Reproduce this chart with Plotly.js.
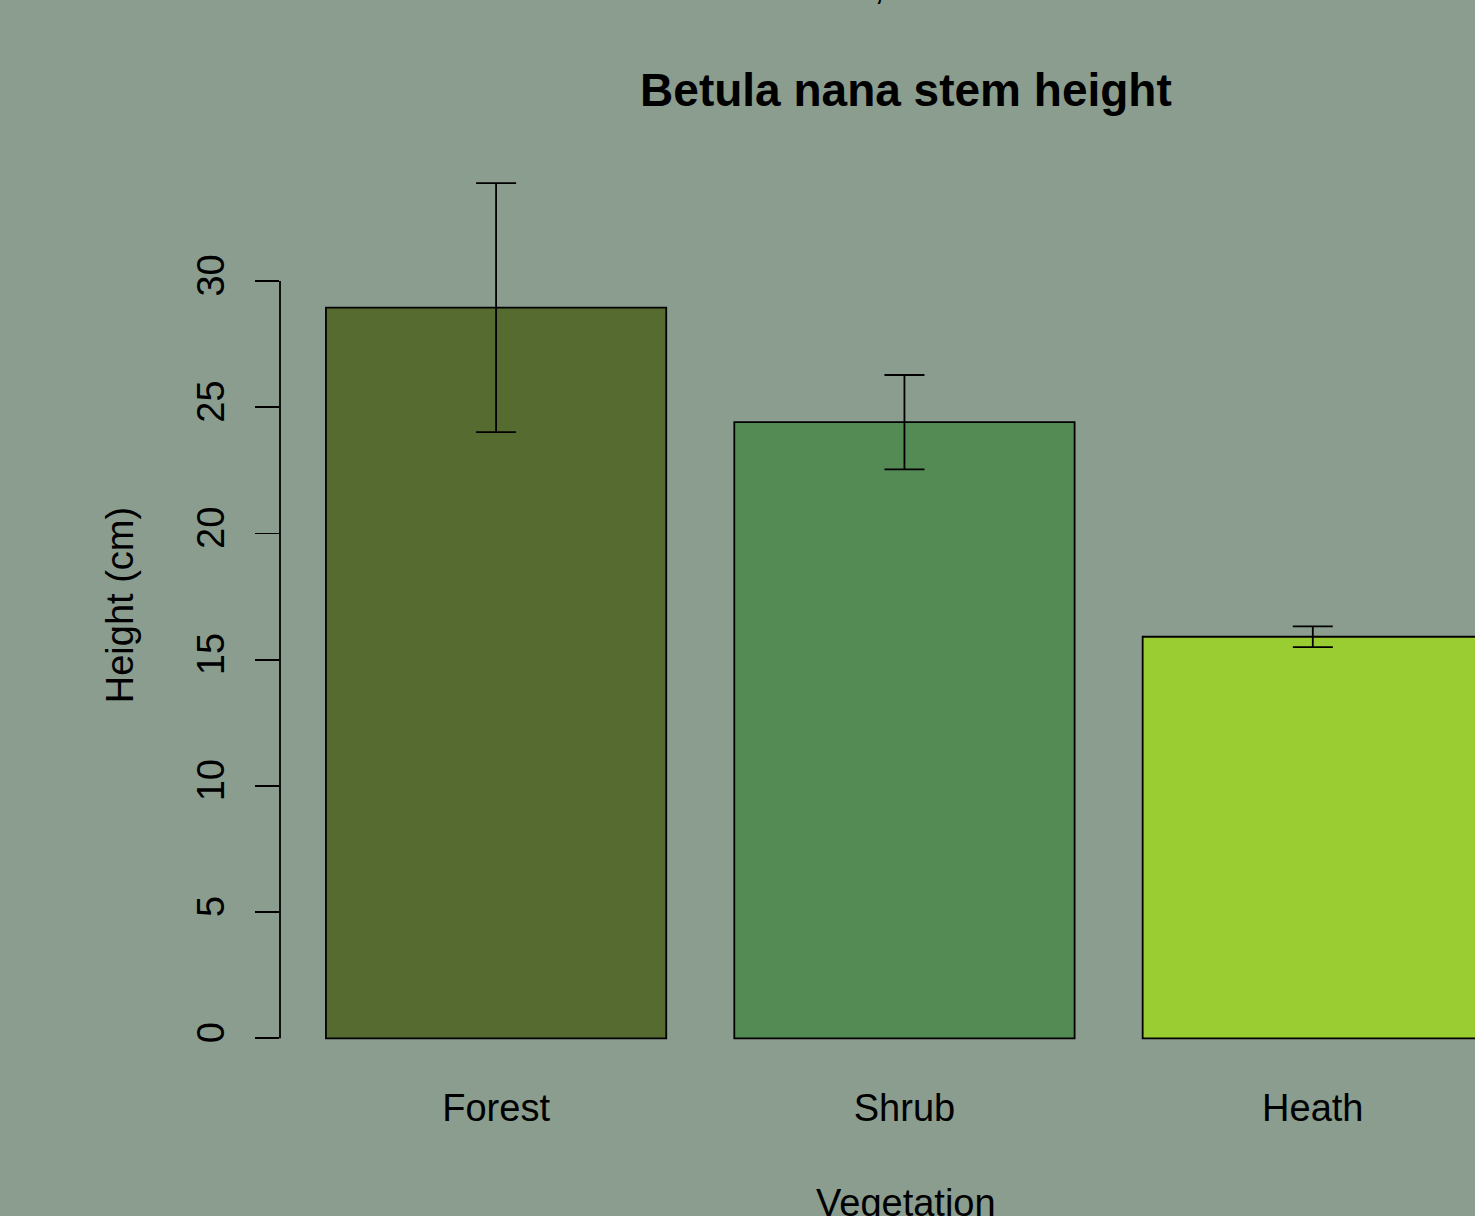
<!DOCTYPE html>
<html>
<head>
<meta charset="utf-8">
<script src="https://cdn.plot.ly/plotly-3.0.1.min.js"></script>
<style>html,body{margin:0;padding:0;background:#8A9D8E;}#chart{width:1475px;height:1216px;}</style>
</head>
<body>
<div id="chart"></div>
<script>
// Data
const categories = ["Forest", "Shrub", "Heath"];
const positions = [0.7, 1.9, 3.1];
const meanHeight = [28.95, 24.41, 15.91];
const stdErr = [4.93, 1.87, 0.41];
const barColors = ["#556B2F", "#548B54", "#9ACD32"];
const yTicks = [0, 5, 10, 15, 20, 25, 30];
const xTitle = "Vegetation";
const yTitle = "Height (cm)";
const mainTitle = "Betula nana stem height";

const FONT = '"Liberation Sans", Arial, Helvetica, sans-serif';
const BG = '#8A9D8E';
const LW = 1.8;

const trace = {
  type: 'bar',
  x: positions,
  y: meanHeight,
  width: 1,
  marker: { color: barColors, line: { color: '#000000', width: LW } },
  error_y: { type: 'data', array: stdErr, visible: true, color: '#000000', thickness: LW, width: 20 },
  hoverinfo: 'none'
};

const layout = {
  width: 1475,
  height: 1216,
  paper_bgcolor: BG,
  plot_bgcolor: BG,
  margin: { l: 280, r: 0, t: 150, b: 156, pad: 0 },
  showlegend: false,
  font: { family: FONT, size: 38, color: '#000000' },
  title: {
    text: '<b>' + mainTitle + '</b>',
    font: { family: FONT, size: 46, color: '#000000' },
    xref: 'paper', x: 0.5238, xanchor: 'center',
    yref: 'container', y: 1 - 90 / 1216, yanchor: 'middle'
  },
  xaxis: {
    range: [0.065, 3.5766],
    tickvals: positions,
    ticktext: categories,
    ticks: '',
    showline: false,
    showgrid: false,
    zeroline: false,
    tickfont: { family: FONT, size: 38, color: '#000000' },
    ticklabelstandoff: 22
  },
  yaxis: {
    range: [-0.860, 35.194],
    tickvals: yTicks,
    ticktext: yTicks.map(String),
    ticks: 'outside',
    ticklen: 24,
    tickwidth: LW,
    tickcolor: '#000000',
    tickangle: -90,
    showline: false,
    showgrid: false,
    zeroline: false,
    tickfont: { family: FONT, size: 38, color: '#000000' },
    ticklabelstandoff: 16,
    title: { text: yTitle, font: { family: FONT, size: 38, color: '#000000' }, standoff: 44 }
  },
  shapes: [
    { type: 'line', xref: 'paper', yref: 'y', x0: 0, x1: 0, y0: yTicks[0], y1: yTicks[yTicks.length - 1],
      line: { color: '#000000', width: LW } }
  ],
  annotations: [
    { text: xTitle, xref: 'paper', yref: 'paper', x: 0.5238, y: -0.1571, xanchor: 'center', yanchor: 'middle',
      showarrow: false, font: { family: FONT, size: 38, color: '#000000' } },
    { text: ',', xref: 'paper', yref: 'paper', x: 0.502, y: 1.155, xanchor: 'center', yanchor: 'bottom',
      showarrow: false, font: { family: FONT, size: 38, color: '#000000' } }
  ]
};

Plotly.newPlot('chart', [trace], layout, { displayModeBar: false, staticPlot: true });
</script>
</body>
</html>
